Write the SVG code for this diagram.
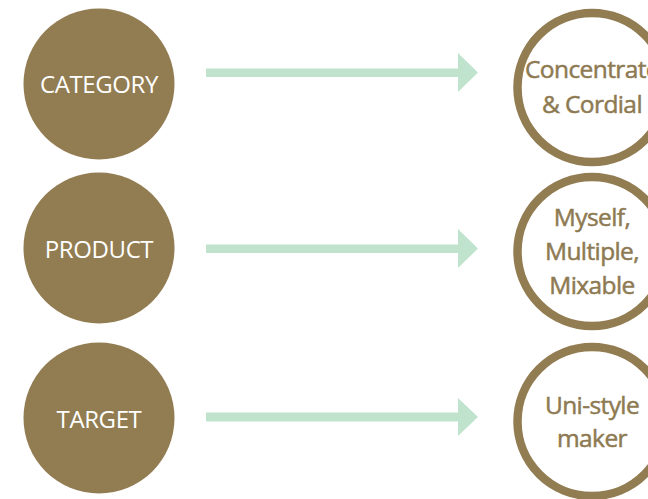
<svg xmlns="http://www.w3.org/2000/svg" width="648" height="499" viewBox="0 0 648 499">
<style>
.dot{fill:#927C52}
.ring{fill:#fff;stroke:#927C52;stroke-width:8.5}
.lt{font-family:"Open Sans","Liberation Sans",sans-serif;font-size:24px;fill:#fff;text-anchor:middle;letter-spacing:-0.4px}
.rt{font-family:"Open Sans","Liberation Sans",sans-serif;font-size:24.5px;fill:#8E7A52;stroke:#8E7A52;stroke-width:0.5px;text-anchor:middle;letter-spacing:-0.6px}
.arr{fill:#C0E3CD}
</style>
<rect width="648" height="499" fill="#fff"/>
<g id="category">
<circle class="dot" cx="99" cy="84" r="75.5"/>
<text class="lt" x="99" y="93">CATEGORY</text>
</g>
<g id="product">
<circle class="dot" cx="99" cy="248" r="75.5"/>
<text class="lt" x="99" y="258">PRODUCT</text>
</g>
<g id="target">
<circle class="dot" cx="99" cy="418" r="75.5"/>
<text class="lt" x="99" y="428">TARGET</text>
</g>
<g id="concentrate">
<circle class="ring" cx="592" cy="87.5" r="74.5"/>
<text class="rt" x="592" y="78">Concentrate</text>
<text class="rt" x="592" y="113">&amp; Cordial</text>
</g>
<g id="myself">
<circle class="ring" cx="592" cy="251.5" r="74.5"/>
<text class="rt" x="592" y="226">Myself,</text>
<text class="rt" x="592" y="260">Multiple,</text>
<text class="rt" x="592" y="294">Mixable</text>
</g>
<g id="unistyle">
<circle class="ring" cx="592" cy="421.5" r="74.5"/>
<text class="rt" x="592" y="414">Uni-style</text>
<text class="rt" x="592" y="447">maker</text>
</g>
<g id="connectors">
<path class="arr" d="M206 68.5H458V53L478 72.5L458 92V77H206Z"/>
<path class="arr" d="M206 244.5H458V229L478 248.5L458 268V253H206Z"/>
<path class="arr" d="M206 412.5H458V398L478 417L458 436V421.5H206Z"/>
</g>
</svg>
